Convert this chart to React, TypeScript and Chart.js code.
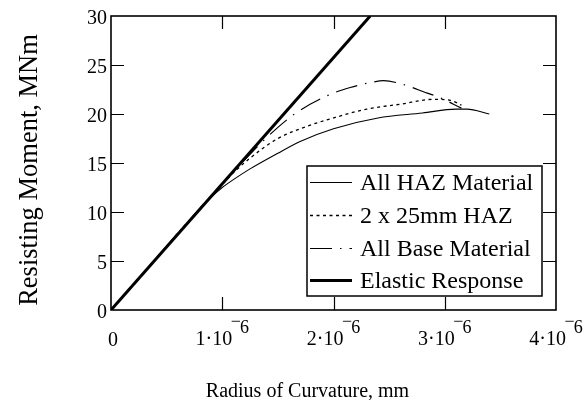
import React, { useEffect, useRef } from "react";
import { Chart, registerables } from "chart.js";

Chart.register(...registerables);

// ---- Data (radius of curvature in mm, moment in MNm) ----
const hazRadius = [0, 0.8e-6, 0.9e-6, 1.0e-6, 1.1e-6, 1.25e-6, 1.5e-6, 1.7e-6, 2.0e-6, 2.4e-6, 2.8e-6, 3.1e-6, 3.2e-6, 3.4e-6];
const hazMoment = [0, 10.3, 11.5, 12.5, 13.3, 14.4, 16.0, 17.2, 18.5, 19.6, 20.1, 20.5, 20.5, 20.0];

const haz25Radius = [0, 0.85e-6, 1.0e-6, 1.1e-6, 1.25e-6, 1.5e-6, 1.75e-6, 2.0e-6, 2.3e-6, 2.6e-6, 2.9e-6, 3.05e-6, 3.15e-6];
const haz25Moment = [0, 11.0, 12.8, 14.0, 15.5, 17.5, 18.7, 19.6, 20.5, 21.0, 21.5, 21.4, 20.9];

const baseRadius = [0, 1.0e-6, 1.2e-6, 1.4e-6, 1.65e-6, 1.95e-6, 2.15e-6, 2.35e-6, 2.45e-6, 2.6e-6, 2.85e-6, 2.95e-6, 3.15e-6];
const baseMoment = [0, 12.9, 15.3, 17.6, 20.0, 21.9, 22.7, 23.25, 23.4, 23.1, 22.1, 21.7, 20.6];

const elasticRadius = [0, 2.33e-6];
const elasticMoment = [0, 30];

const seriesLabels = ["All HAZ Material", "2 x 25mm HAZ", "All Base Material", "Elastic Response"];

const xTickValues = [0, 1e-6, 2e-6, 3e-6, 4e-6];
const xTickMantissas = ["0", "1", "2", "3", "4"];
const xTickExponent = "6";
const yTickValues = [0, 5, 10, 15, 20, 25, 30];

const xTitle = "Radius of Curvature, mm";
const yTitle = "Resisting Moment, MNm";

const FONT = "'Liberation Serif', 'Times New Roman', serif";

const toPoints = (xs: number[], ys: number[]) => xs.map((x, i) => ({ x, y: ys[i] }));

const framePlugin = {
  id: "framePlugin",
  afterDraw(chart: any) {
    const { ctx, chartArea } = chart;
    const { left, right, top, bottom } = chartArea;
    const xs = chart.scales.x;
    const ys = chart.scales.y;
    ctx.save();
    ctx.strokeStyle = "#000";
    ctx.fillStyle = "#000";
    ctx.setLineDash([]);
    // frame
    ctx.lineWidth = 1.6;
    ctx.strokeRect(left, top, right - left, bottom - top);
    // inward ticks
    ctx.lineWidth = 1.2;
    const tl = 13;
    ctx.beginPath();
    xTickValues.slice(1, -1).forEach((v) => {
      const px = Math.round(xs.getPixelForValue(v)) + 0.5;
      ctx.moveTo(px, bottom);
      ctx.lineTo(px, bottom - tl);
      ctx.moveTo(px, top);
      ctx.lineTo(px, top + tl);
    });
    yTickValues.slice(1, -1).forEach((v) => {
      const py = Math.round(ys.getPixelForValue(v)) + 0.5;
      ctx.moveTo(left, py);
      ctx.lineTo(left + tl, py);
      ctx.moveTo(right, py);
      ctx.lineTo(right - tl, py);
    });
    ctx.stroke();

    // x tick labels with superscript exponent
    ctx.textBaseline = "alphabetic";
    xTickValues.forEach((v, i) => {
      const px = xs.getPixelForValue(v);
      const baseY = bottom + 35;
      if (v === 0) {
        ctx.font = `20px ${FONT}`;
        ctx.textAlign = "center";
        ctx.fillText(xTickMantissas[i], px + 2, baseY + 1);
        return;
      }
      const base = `${xTickMantissas[i]}\u00B710`;
      ctx.font = `20px ${FONT}`;
      const wb = ctx.measureText(base).width;
      ctx.font = `18px ${FONT}`;
      const wm = ctx.measureText("\u2212").width;
      const we = ctx.measureText(xTickExponent).width;
      const total = wb + wm * 0.75 + we;
      let sx = px - total / 2;
      ctx.textAlign = "left";
      ctx.font = `20px ${FONT}`;
      ctx.fillText(base, sx, baseY);
      sx += wb - wm * 0.15;
      ctx.font = `18px ${FONT}`;
      ctx.fillText("\u2212", sx, baseY - 18);
      sx += wm * 0.9;
      ctx.fillText(xTickExponent, sx, baseY - 12);
    });

    // axis titles
    ctx.font = `20px ${FONT}`;
    ctx.textAlign = "center";
    ctx.fillText(xTitle, (left + right) / 2 - 26, 397);
    ctx.save();
    ctx.translate(37, 170);
    ctx.rotate(-Math.PI / 2);
    ctx.font = `26.5px ${FONT}`;
    ctx.fillText(yTitle, 0, 0);
    ctx.restore();

    // legend box
    const bx = 307, by = 166, bw = 235, bh = 130;
    ctx.fillStyle = "#fff";
    ctx.fillRect(bx, by, bw, bh);
    ctx.lineWidth = 1.5;
    ctx.strokeStyle = "#000";
    ctx.strokeRect(bx, by, bw, bh);
    const rowMid = [182, 215, 248, 280];
    chart.data.datasets.forEach((ds: any, i: number) => {
      const yMid = rowMid[i];
      ctx.beginPath();
      ctx.lineWidth = ds.borderWidth;
      ctx.setLineDash(ds.borderDash || []);
      ctx.moveTo(310, yMid + 0.5);
      ctx.lineTo(352, yMid + 0.5);
      ctx.stroke();
      ctx.setLineDash([]);
      ctx.fillStyle = "#000";
      ctx.font = `24px ${FONT}`;
      ctx.textAlign = "left";
      ctx.fillText(ds.label, 360, yMid + 8);
    });
    ctx.restore();
  },
};

export default function App() {
  const ref = useRef<HTMLCanvasElement | null>(null);
  useEffect(() => {
    if (!ref.current) return;
    const common = {
      borderColor: "#000",
      backgroundColor: "#000",
      pointRadius: 0,
      fill: false,
      cubicInterpolationMode: "monotone" as const,
    };
    const chart = new Chart(ref.current, {
      type: "line",
      data: {
        datasets: [
          { ...common, label: seriesLabels[0], data: toPoints(hazRadius, hazMoment), borderWidth: 1.1 },
          { ...common, label: seriesLabels[1], data: toPoints(haz25Radius, haz25Moment), borderWidth: 1.3, borderDash: [3, 3.5] },
          { ...common, label: seriesLabels[2], data: toPoints(baseRadius, baseMoment), borderWidth: 1.2, borderDash: [22, 8, 1.5, 8] },
          { ...common, label: seriesLabels[3], data: toPoints(elasticRadius, elasticMoment), borderWidth: 3 },
        ],
      },
      options: {
        responsive: false,
        animation: false,
        devicePixelRatio: 1,
        layout: { padding: { top: 14, right: 31, left: 0, bottom: 0 } },
        plugins: { legend: { display: false }, tooltip: { enabled: false } },
        scales: {
          x: {
            type: "linear",
            min: 0,
            max: 4e-6,
            ticks: { display: false, stepSize: 1e-6 },
            grid: { display: false, drawTicks: false },
            border: { display: false },
            afterFit: (s: any) => {
              s.height = 90;
            },
          },
          y: {
            type: "linear",
            min: 0,
            max: 30,
            ticks: {
              stepSize: 5,
              color: "#000",
              padding: 4,
              labelOffset: 3,
              font: { family: FONT, size: 20 },
            },
            grid: { display: false, drawTicks: false },
            border: { display: false },
            afterFit: (s: any) => {
              s.width = 111;
            },
          },
        },
      },
      plugins: [framePlugin],
    });
    return () => chart.destroy();
  }, []);
  return (
    <div style={{ position: "absolute", left: 0, top: 0, width: 587, height: 400, background: "#fff" }}>
      <canvas ref={ref} width={587} height={400} />
    </div>
  );
}
